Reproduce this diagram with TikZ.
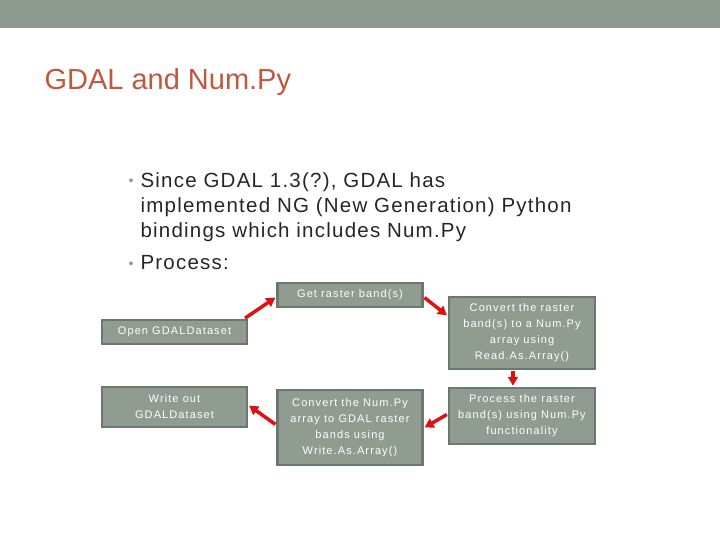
\documentclass[tikz,border=0pt]{standalone}
\usepackage{fontspec}
\setmainfont{Liberation Sans}
\usetikzlibrary{arrows.meta}
\definecolor{bar}{HTML}{8C9B8D}
\definecolor{boxfill}{HTML}{8F9C8F}
\definecolor{boxline}{HTML}{6E7670}
\definecolor{title}{HTML}{C0583E}
\definecolor{body}{HTML}{262626}
\definecolor{flow}{HTML}{E01010}
\begin{document}
\begin{tikzpicture}[x=1pt,y=-1pt,>={Triangle[length=9pt,width=10pt]},
		stepbox/.style={rectangle,draw=boxline,line width=2.5pt,fill=boxfill,text=white,
			font=\fontsize{11}{16}\selectfont\addfontfeatures{LetterSpace=10},align=center,inner sep=0pt},
		flowarrow/.style={->,draw=flow,line width=3.5pt,shorten >=1pt,shorten <=1pt},
		bullet/.style={anchor=north west,text=body,font=\fontsize{20.5}{25}\selectfont\addfontfeatures{LetterSpace=6},text width=520pt,align=left}]
		\useasboundingbox (0,0) rectangle (720,540);
		\fill[bar] (0,0) rectangle (720,28);
		\node[anchor=west,text=title,font=\fontsize{29}{32}\selectfont] (title) at (41,82) {GDAL and Num.Py};
		\node[bullet] (pt1) at (137,169) {Since GDAL 1.3(?), GDAL has\\implemented NG (New Generation) Python\\bindings which includes Num.Py};
		\node[bullet] (pt2) at (137,252) {Process:};
		\node[text=bar,font=\fontsize{14}{16}\selectfont] (dot1) at (131,182) {•};
		\node[text=bar,font=\fontsize{14}{16}\selectfont] (dot2) at (131,265) {•};

		% process boxes
		\node[stepbox,minimum width=145pt,minimum height=24pt] (open)  at (174.5,332) {Open GDALDataset};
		\node[stepbox,minimum width=145pt,minimum height=24pt] (band)  at (350,295)   {Get raster band(s)};
		\node[stepbox,minimum width=146pt,minimum height=72pt] (read)  at (522,333)   {Convert the raster\\band(s) to a Num.Py\\array using\\Read.As.Array()};
		\node[stepbox,minimum width=146pt,minimum height=56pt] (proc)  at (522,416)   {Process the raster\\band(s) using Num.Py\\functionality};
		\node[stepbox,minimum width=145pt,minimum height=75pt] (write) at (350,427.5) {Convert the Num.Py\\array to GDAL raster\\bands using\\Write.As.Array()};
		\node[stepbox,minimum width=145pt,minimum height=40pt] (out)   at (174.5,407) {Write out\\GDALDataset};

		\draw[flowarrow] (open.north east) ++(-4,0) coordinate (o1) (o1) -- (band.west |- 0,297);
		\draw[flowarrow] (band.east |- 0,297) -- (read.west |- 0,316);
		\draw[flowarrow] (read.south -| 513,0) -- (proc.north -| 513,0);
		\draw[flowarrow] (proc.west |- 0,414) -- (write.east |- 0,428);
		\draw[flowarrow] (write.west |- 0,425) -- (out.east |- 0,405);
\end{tikzpicture}
\end{document}
